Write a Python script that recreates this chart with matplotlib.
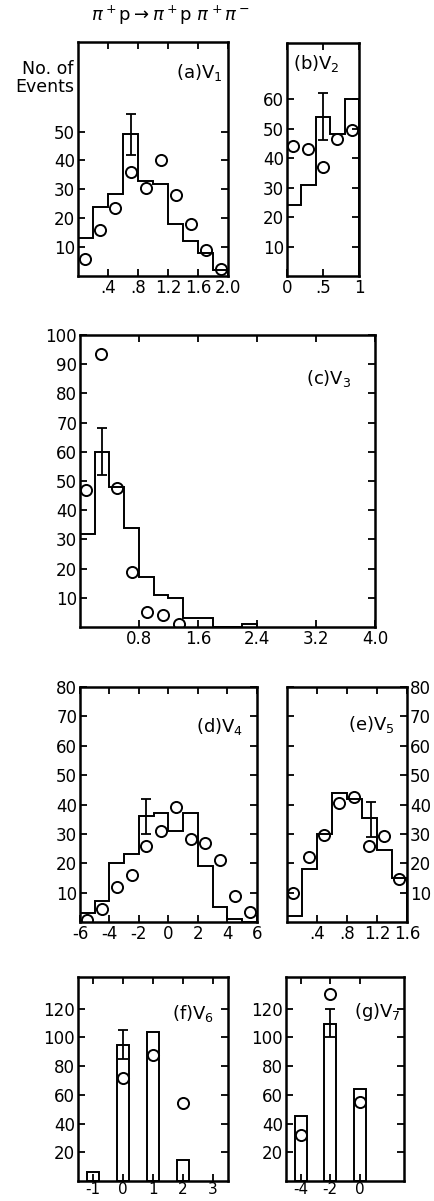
import matplotlib
matplotlib.use("Agg")
import matplotlib.pyplot as plt

plt.rcParams['axes.unicode_minus'] = False
plt.rcParams['font.family'] = ['DejaVu Sans']

# (a) V1
a_edges = [0, 0.2, 0.4, 0.6, 0.8, 1.0, 1.2, 1.4, 1.6, 1.8, 2.0]
a_hist = [13, 24, 28.5, 49, 33, 32, 18, 12, 8, 2]
a_x = [0.1, 0.3, 0.5, 0.7, 0.9, 1.1, 1.3, 1.5, 1.7, 1.9]
a_pts = [6, 16, 23.5, 36, 30.5, 40, 28, 18, 9, 2.5]
a_err = (0.7, 49, 7)

# (b) V2
b_edges = [0, 0.2, 0.4, 0.6, 0.8, 1.0]
b_hist = [24, 31, 54, 48, 60]
b_x = [0.08, 0.29, 0.5, 0.69, 0.9]
b_pts = [44, 43, 37, 46.5, 49.5]
b_err = (0.5, 54, 8)

# (c) V3
c_edges = [0, 0.2, 0.4, 0.6, 0.8, 1.0, 1.2, 1.4, 1.6, 1.8, 2.0, 2.2, 2.4]
c_hist = [32, 60, 48, 34, 17, 11, 10, 3, 3, 0, 0, 1]
c_x = [0.08, 0.28, 0.5, 0.7, 0.91, 1.12, 1.34]
c_pts = [47, 93.5, 47.5, 19, 5, 4, 1]
c_err = (0.3, 60, 8)

# (d) V4
d_edges = [-6, -5, -4, -3, -2, -1, 0, 1, 2, 3, 4, 5, 6]
d_hist = [3, 7, 20, 23, 36, 37, 31, 37, 19, 5, 1, 0]
d_x = [-5.55, -4.5, -3.5, -2.5, -1.5, -0.5, 0.5, 1.5, 2.5, 3.5, 4.5, 5.5]
d_pts = [0.8, 4.5, 12, 16, 26, 31, 39, 28.3, 27, 21, 9, 3.4]
d_err = (-1.5, 36, 6)

# (e) V5
e_edges = [0, 0.2, 0.4, 0.6, 0.8, 1.0, 1.2, 1.4, 1.6]
e_hist = [2, 18, 30, 44, 42, 35.5, 24.4, 15]
e_x = [0.08, 0.29, 0.49, 0.7, 0.9, 1.1, 1.29, 1.49]
e_pts = [10, 22, 29.5, 40.5, 42.5, 26, 29.3, 14.5]
e_err = (1.12, 35, 6)

# (f) V6
f_x = [-1, 0, 1, 2]
f_bars = [6, 95, 104, 14.5]
f_pts_x = [0, 1, 2]
f_pts = [72, 88, 54]
f_err = (0, 95, 10)

# (g) V7
g_x = [-4, -2, 0]
g_bars = [45, 109, 64]
g_pts = [32, 130, 55]
g_err = (-2, 110, 9.5)

W, H = 435, 1201
fig = plt.figure(figsize=(W / 100, H / 100), dpi=100)


def box(l, r, t, b):
    return [l / W, 1 - b / H, (r - l) / W, (b - t) / H]


def style(ax):
    for s in ax.spines.values():
        s.set_linewidth(1.8)
    ax.tick_params(direction='in', length=5, width=1.3, labelsize=12,
                   top=True, right=True, pad=2)


def circles(ax, x, y):
    ax.plot(x, y, 'o', mfc='none', mec='black', ms=8, mew=1.4, zorder=3)


def errbar(ax, e):
    ax.errorbar([e[0]], [e[1]], yerr=[e[2]], fmt='none', ecolor='black',
                elinewidth=1.3, capsize=3.5, capthick=1.3)


def hist(ax, vals, edges):
    ax.stairs(vals, edges, baseline=0, fill=False, color='black', linewidth=1.4)


# (a)
ax = fig.add_axes(box(78, 228, 42, 276))
style(ax)
hist(ax, a_hist, a_edges)
circles(ax, a_x, a_pts)
errbar(ax, a_err)
ax.set_xlim(0, 2.0)
ax.set_ylim(0, 81)
ax.set_xticks([0.4, 0.8, 1.2, 1.6, 2.0], ['.4', '.8', '1.2', '1.6', '2.0'])
ax.set_yticks([10, 20, 30, 40, 50])
ax.text(0.96, 0.87, '(a)V$_1$', transform=ax.transAxes, ha='right', va='center', fontsize=13)

# (b)
ax = fig.add_axes(box(287, 359, 43, 276))
style(ax)
hist(ax, b_hist, b_edges)
circles(ax, b_x, b_pts)
errbar(ax, b_err)
ax.set_xlim(0, 1.0)
ax.set_ylim(0, 79)
ax.set_xticks([0, 0.5, 1.0], ['0', '.5', '1'])
ax.set_yticks([10, 20, 30, 40, 50, 60])
ax.text(0.08, 0.91, '(b)V$_2$', transform=ax.transAxes, ha='left', va='center', fontsize=13)

# (c)
ax = fig.add_axes(box(80, 375, 335, 627))
style(ax)
hist(ax, c_hist, c_edges)
circles(ax, c_x, c_pts)
errbar(ax, c_err)
ax.set_xlim(0, 4.0)
ax.set_ylim(0, 100)
ax.set_xticks([0.8, 1.6, 2.4, 3.2, 4.0], ['0.8', '1.6', '2.4', '3.2', '4.0'])
ax.set_yticks(range(10, 101, 10))
ax.text(0.92, 0.85, '(c)V$_3$', transform=ax.transAxes, ha='right', va='center', fontsize=13)

# (d)
ax = fig.add_axes(box(80, 257, 687, 922))
style(ax)
hist(ax, d_hist, d_edges)
circles(ax, d_x, d_pts)
errbar(ax, d_err)
ax.set_xlim(-6, 6)
ax.set_ylim(0, 80)
ax.set_xticks([-6, -4, -2, 0, 2, 4, 6])
ax.set_yticks(range(10, 81, 10))
ax.text(0.92, 0.83, '(d)V$_4$', transform=ax.transAxes, ha='right', va='center', fontsize=13)

# (e)
ax = fig.add_axes(box(287, 407, 687, 922))
style(ax)
hist(ax, e_hist, e_edges)
circles(ax, e_x, e_pts)
errbar(ax, e_err)
ax.set_xlim(0, 1.6)
ax.set_ylim(0, 80)
ax.set_xticks([0.4, 0.8, 1.2, 1.6], ['.4', '.8', '1.2', '1.6'])
ax.set_yticks(range(10, 81, 10))
ax.tick_params(labelleft=False, labelright=True)
ax.text(0.9, 0.84, '(e)V$_5$', transform=ax.transAxes, ha='right', va='center', fontsize=13)

# (f)
ax = fig.add_axes(box(78, 228, 977, 1181))
style(ax)
ax.bar(f_x, f_bars, width=0.4, fill=False, edgecolor='black', linewidth=1.4)
circles(ax, f_pts_x, f_pts)
errbar(ax, f_err)
ax.set_xlim(-1.5, 3.5)
ax.set_ylim(0, 142)
ax.set_xticks([-1, 0, 1, 2, 3])
ax.set_yticks([20, 40, 60, 80, 100, 120])
ax.tick_params(axis='x', labelsize=11, pad=1)
ax.text(0.91, 0.82, '(f)V$_6$', transform=ax.transAxes, ha='right', va='center', fontsize=13)

# (g)
ax = fig.add_axes(box(286, 404, 977, 1181))
style(ax)
ax.bar(g_x, g_bars, width=0.78, fill=False, edgecolor='black', linewidth=1.4)
circles(ax, g_x, g_pts)
errbar(ax, g_err)
ax.set_xlim(-5, 3)
ax.set_ylim(0, 142)
ax.set_xticks([-4, -2, 0])
ax.set_yticks([20, 40, 60, 80, 100, 120])
ax.tick_params(axis='x', labelsize=11, pad=1)
ax.text(0.97, 0.83, '(g)V$_7$', transform=ax.transAxes, ha='right', va='center', fontsize=13)

fig.text(170 / W, 1 - 15 / H, r'$\pi^+$p$\rightarrow\pi^+$p $\pi^+\pi^-$',
         ha='center', va='center', fontsize=13)
fig.text(74 / W, 1 - 78 / H, 'No. of\nEvents', ha='right', va='center',
         fontsize=12.5, linespacing=1.0)

fig.savefig('out.png', dpi=100)
